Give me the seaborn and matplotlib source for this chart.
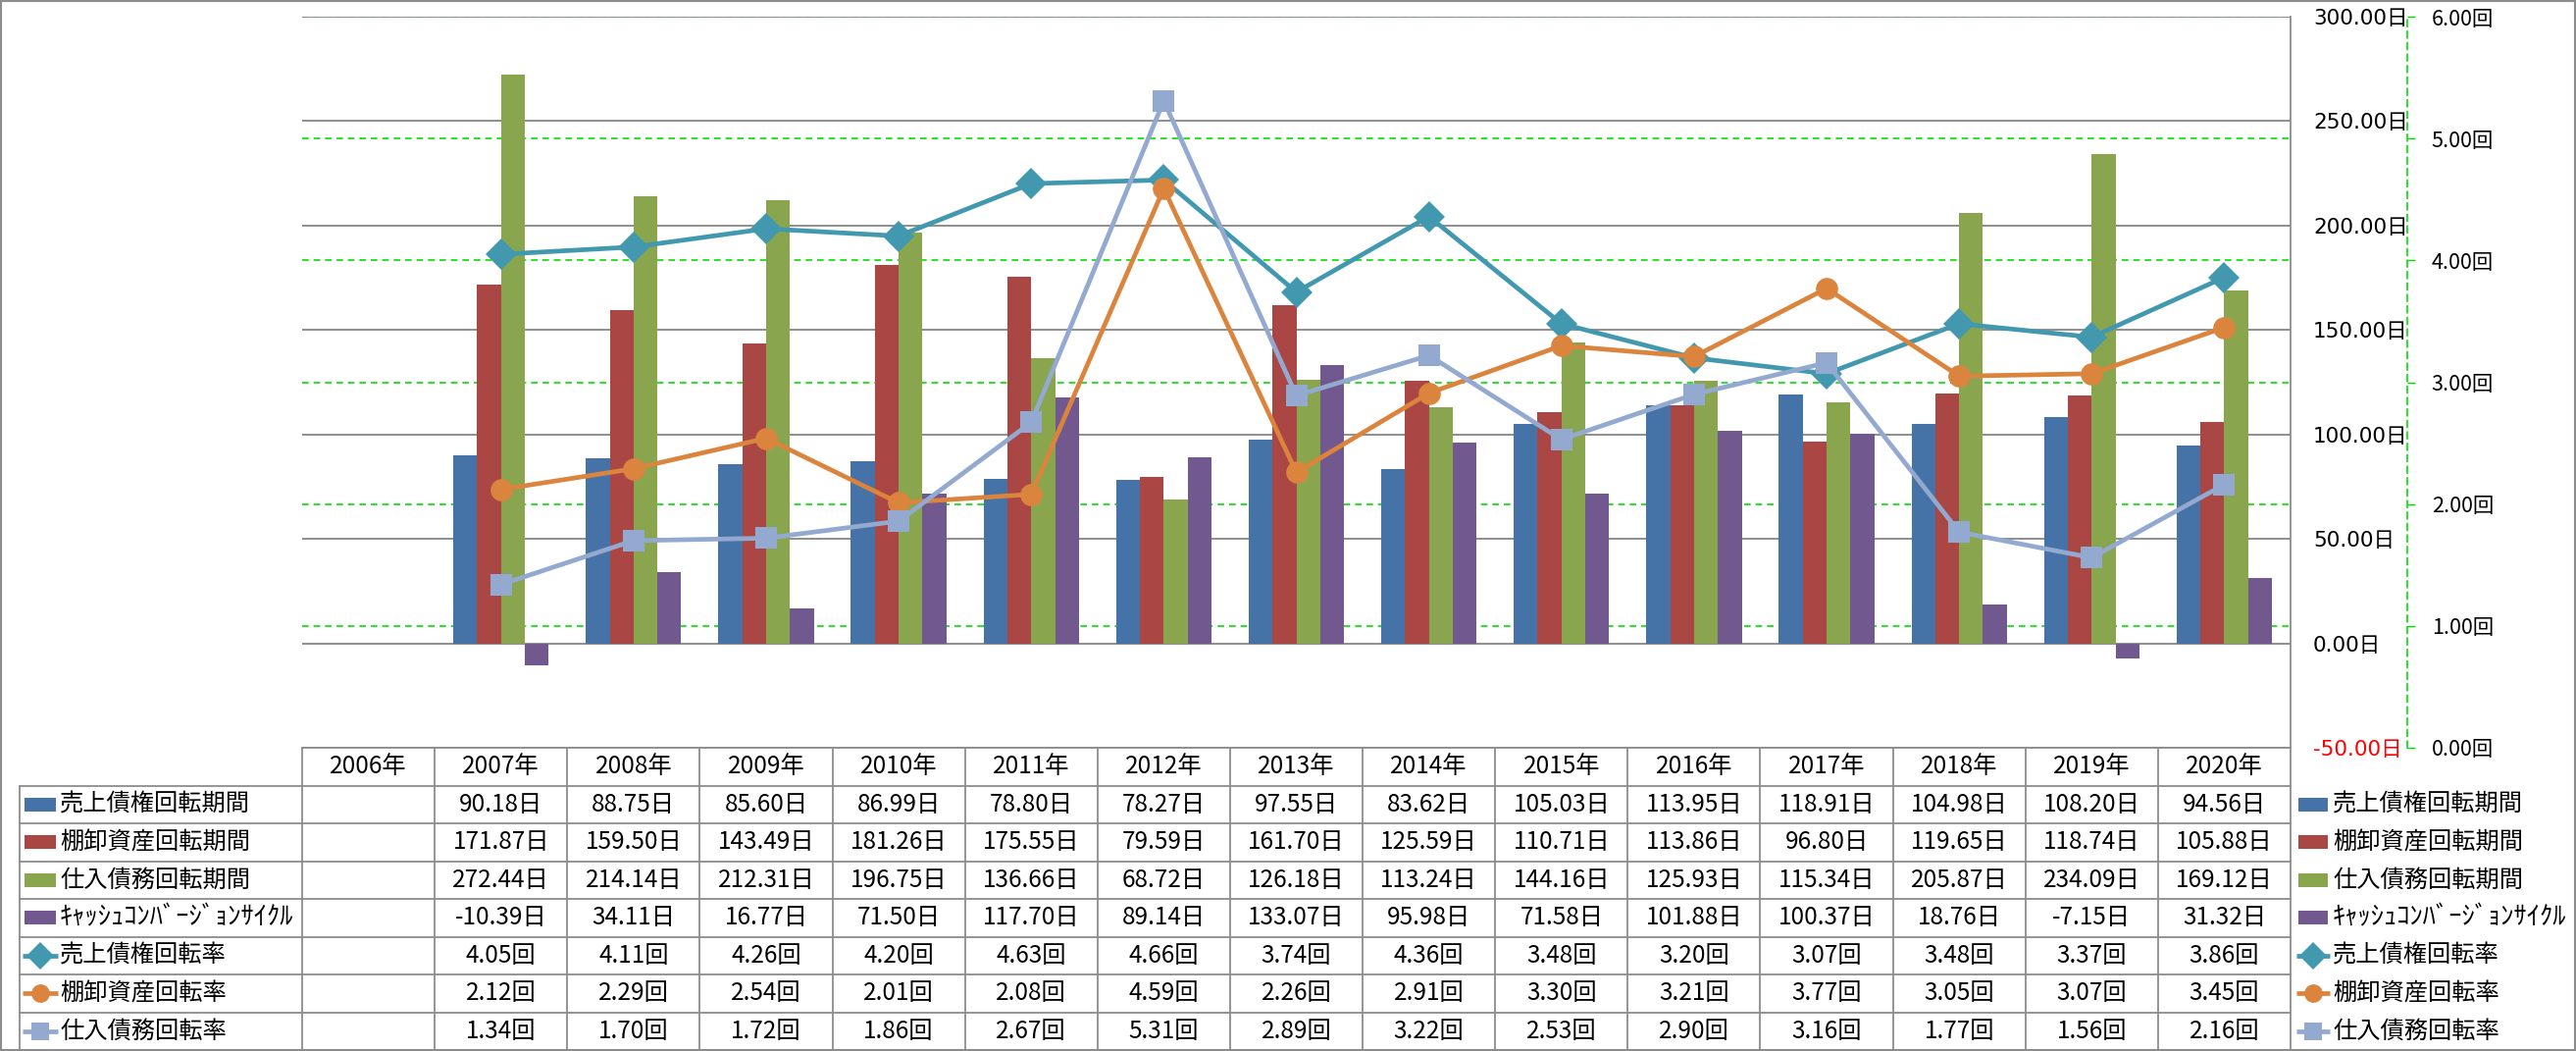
import numpy as np
import pandas as pd
import matplotlib
matplotlib.use("Agg")
import matplotlib.pyplot as plt
import seaborn as sns
from matplotlib.patches import Rectangle

sns.set_style("white")
plt.rcParams["font.family"] = ["Noto Sans CJK JP", "DejaVu Sans"]

# ---------------- data ----------------
years = ["2006年", "2007年", "2008年", "2009年", "2010年", "2011年", "2012年", "2013年",
         "2014年", "2015年", "2016年", "2017年", "2018年", "2019年", "2020年"]

day_series = ["売上債権回転期間", "棚卸資産回転期間", "仕入債務回転期間", "ｷｬｯｼｭｺﾝﾊﾞｰｼﾞｮﾝｻｲｸﾙ"]
rate_series = ["売上債権回転率", "棚卸資産回転率", "仕入債務回転率"]

receivable_days = [None, 90.18, 88.75, 85.60, 86.99, 78.80, 78.27, 97.55, 83.62, 105.03, 113.95, 118.91, 104.98, 108.20, 94.56]
inventory_days = [None, 171.87, 159.50, 143.49, 181.26, 175.55, 79.59, 161.70, 125.59, 110.71, 113.86, 96.80, 119.65, 118.74, 105.88]
payable_days = [None, 272.44, 214.14, 212.31, 196.75, 136.66, 68.72, 126.18, 113.24, 144.16, 125.93, 115.34, 205.87, 234.09, 169.12]
ccc_days = [None, -10.39, 34.11, 16.77, 71.50, 117.70, 89.14, 133.07, 95.98, 71.58, 101.88, 100.37, 18.76, -7.15, 31.32]

receivable_turnover = [None, 4.05, 4.11, 4.26, 4.20, 4.63, 4.66, 3.74, 4.36, 3.48, 3.20, 3.07, 3.48, 3.37, 3.86]
inventory_turnover = [None, 2.12, 2.29, 2.54, 2.01, 2.08, 4.59, 2.26, 2.91, 3.30, 3.21, 3.77, 3.05, 3.07, 3.45]
payable_turnover = [None, 1.34, 1.70, 1.72, 1.86, 2.67, 5.31, 2.89, 3.22, 2.53, 2.90, 3.16, 1.77, 1.56, 2.16]

day_ticks = [-50, 0, 50, 100, 150, 200, 250, 300]
rate_ticks = [0, 1, 2, 3, 4, 5, 6]

bar_colors = ["#4572A7", "#AA4643", "#89A54E", "#71588F"]
line_colors = ["#4198AF", "#DB843D", "#93A9CF"]
line_markers = ["D", "o", "s"]

day_values = [receivable_days, inventory_days, payable_days, ccc_days]
rate_values = [receivable_turnover, inventory_turnover, payable_turnover]

# ---------------- layout (pixels) ----------------
W, H = 2626, 1071
PL, PR, PT, PB = 308, 2335, 17, 762
ROW_H = (H - 1 - PB) / 8.0
LBL_L = 20
FS = 17.5
GRAY = "#8C8C8C"
AXIS_FONT = ["DejaVu Sans", "Noto Sans CJK JP"]

fig = plt.figure(figsize=(W / 100, H / 100), dpi=100)
fig.patch.set_facecolor("white")
rect = [PL / W, 1 - PB / H, (PR - PL) / W, (PB - PT) / H]

ax_r = fig.add_axes(rect, zorder=0)   # rate axis: grid, spine, labels
ax_b = fig.add_axes(rect, zorder=1)   # bars (days)
ax_l = fig.add_axes(rect, zorder=2)   # lines (rates)

# ---- bars ----
rows = []
for name, vals in zip(day_series, day_values):
    for y, v in zip(years, vals):
        if v is not None:
            rows.append({"year": y, "series": name, "value": v})
df_days = pd.DataFrame(rows)
sns.barplot(data=df_days, x="year", y="value", hue="series", order=years,
            hue_order=day_series, palette=bar_colors, width=0.72, saturation=1,
            errorbar=None, linewidth=0, legend=False, ax=ax_b)
ax_b.set_xlim(-0.5, len(years) - 0.5)
ax_b.set_ylim(-50, 300)
ax_b.set_xticks([])
ax_b.set_xlabel("")
ax_b.set_ylabel("")
ax_b.set_yticks(day_ticks)
ax_b.yaxis.tick_right()
ax_b.set_yticklabels([f"{v:.2f}日" for v in day_ticks])
ax_b.tick_params(axis="y", length=0, pad=16.5, labelsize=15.5)
for lbl, v in zip(ax_b.get_yticklabels(), day_ticks):
    lbl.set_color("red" if v < 0 else "black")
    lbl.set_fontfamily(AXIS_FONT)
ax_b.grid(axis="y", color="#868686", linewidth=1.3)
ax_b.set_axisbelow(True)
ax_b.patch.set_visible(False)
for s in ["left", "top", "bottom"]:
    ax_b.spines[s].set_visible(False)
ax_b.spines["right"].set_color(GRAY)
ax_b.spines["right"].set_linewidth(1.3)

# ---- rate axis ----
ax_r.set_xlim(-0.5, len(years) - 0.5)
ax_r.set_ylim(0, 6)
ax_r.set_xticks([])
ax_r.set_yticks(rate_ticks)
ax_r.yaxis.tick_right()
ax_r.set_yticklabels([f"{v:.2f}回" for v in rate_ticks])
ax_r.tick_params(axis="y", length=5.8, width=1, color="#00E000", pad=12,
                 direction="out", labelsize=15.5, labelcolor="black")
for lbl in ax_r.get_yticklabels():
    lbl.set_fontfamily(AXIS_FONT)
    lbl.set_fontsize(15.5)
ax_r.grid(axis="y", color="#00E000", linewidth=1.2, linestyle=(0, (4, 3)))
for s in ["left", "top", "bottom"]:
    ax_r.spines[s].set_visible(False)
ax_r.spines["right"].set_position(("outward", (2454 - PR) * 0.72))
ax_r.spines["right"].set_color("#00E000")
ax_r.spines["right"].set_linestyle((0, (4, 3)))
ax_r.spines["right"].set_linewidth(1.2)

# ---- lines ----
xpos = np.arange(len(years))
for name, vals, c, m in zip(rate_series, rate_values, line_colors, line_markers):
    xs = [x for x, v in zip(xpos, vals) if v is not None]
    ys = [v for v in vals if v is not None]
    sns.lineplot(x=xs, y=ys, ax=ax_l, color=c, linewidth=3.4, marker=m,
                 markersize=16.3 if m != "D" else 16.5, markeredgewidth=0,
                 legend=False, sort=False)
ax_l.set_xlim(-0.5, len(years) - 0.5)
ax_l.set_ylim(0, 6)
ax_l.axis("off")
ax_l.patch.set_visible(False)

# ---------------- table + legends (overlay, pixel coords) ----------------
ax_t = fig.add_axes([0, 0, 1, 1], zorder=3)
ax_t.set_xlim(0, W)
ax_t.set_ylim(H, 0)
ax_t.axis("off")
ax_t.patch.set_visible(False)

col_w = (PR - PL) / len(years)
xb = [PL + i * col_w for i in range(len(years) + 1)]
yb = [PB + j * ROW_H for j in range(9)]

lw = 1.3
ax_t.plot([PL, PR], [yb[0], yb[0]], color=GRAY, lw=lw)
for j in range(1, 9):
    ax_t.plot([LBL_L, PR], [yb[j], yb[j]], color=GRAY, lw=lw)
for x in xb:
    ax_t.plot([x, x], [yb[0], yb[8]], color=GRAY, lw=lw)
ax_t.plot([LBL_L, LBL_L], [yb[1], yb[8]], color=GRAY, lw=lw)

for i, y in enumerate(years):
    ax_t.text((xb[i] + xb[i + 1]) / 2, (yb[0] + yb[1]) / 2, y, ha="center", va="center",
              fontsize=FS, color="black")

all_names = day_series + rate_series
all_vals = day_values + rate_values
units = ["日"] * 4 + ["回"] * 3


def draw_key(k, xc, yc, half):
    if k < 4:
        ax_t.add_patch(Rectangle((xc - half, yc - 7), 2 * half, 14, color=bar_colors[k], lw=0))
    else:
        c = line_colors[k - 4]
        ax_t.plot([xc - half - 2, xc + half + 2], [yc, yc], color=c, lw=3.4,
                  solid_capstyle="butt")
        ms = {"D": 14.5, "o": 13.5, "s": 12.5}[line_markers[k - 4]]
        ax_t.plot([xc], [yc], marker=line_markers[k - 4], color=c, markersize=ms,
                  markeredgewidth=0)


for k, (name, vals, u) in enumerate(zip(all_names, all_vals, units)):
    yc = (yb[k + 1] + yb[k + 2]) / 2
    name_fs = 19 if k == 3 else FS
    draw_key(k, 41, yc, 16)
    ax_t.text(61, yc, name, ha="left", va="center", fontsize=name_fs, color="black")
    for i, v in enumerate(vals):
        if v is not None:
            ax_t.text((xb[i] + xb[i + 1]) / 2, yc, f"{v:.2f}{u}", ha="center",
                      va="center", fontsize=FS, color="black")
    draw_key(k, 2358, yc, 15)
    ax_t.text(2378, yc, name, ha="left", va="center", fontsize=name_fs, color="black")

ax_t.add_patch(Rectangle((1, 1), W - 2.5, H - 2.5, fill=False, edgecolor=GRAY, lw=1.5))

fig.savefig("out.png", dpi=100, facecolor="white")
